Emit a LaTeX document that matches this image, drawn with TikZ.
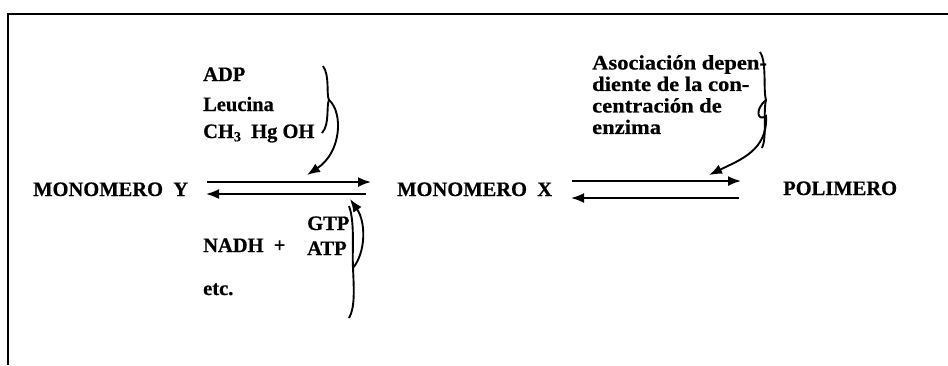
\documentclass[tikz,border=0pt]{standalone}
\usepackage{fontspec}
\setmainfont{Liberation Serif}[BoldFeatures={FakeBold=0.6}]
\newfontfamily\widefont{Liberation Serif}[BoldFeatures={FakeBold=0.6,FakeStretch=1.1}]
\usetikzlibrary{arrows.meta}
\begin{document}
\begin{tikzpicture}[x=1pt,y=-1pt,
  lbl/.style={anchor=base west,inner sep=0pt,font=\fontsize{20.5}{21}\selectfont\bfseries},
  rxn/.style={line width=1.8pt,-{Latex[length=13pt,width=10pt]}},
  bent/.style={line width=1.9pt,-{Latex[length=13pt,width=10pt]}},
  brc/.style={line width=1.9pt},
  frame/.style={line width=2.8pt}]
\useasboundingbox (0,0) rectangle (948,365);
% frame (open at right and bottom)
\coordinate (ftr) at (948,14);
\coordinate (ftl) at (8,14);
\coordinate (fbl) at (8,365);
\draw[frame] (ftr) -- (ftl) -- (fbl);
% main species
\node[lbl] (my) at (33,196) {MONOMERO\ \ Y};
\node[lbl] (mx) at (397,196) {MONOMERO\ \ X};
\node[lbl] (pol) at (783,195) {POLIMERO};
% reaction arrows
\coordinate (a1s) at (207,182); \coordinate (a1e) at (371,182);
\coordinate (a2s) at (366,194); \coordinate (a2e) at (206,194);
\coordinate (b1s) at (572,181); \coordinate (b1e) at (741,181);
\coordinate (b2s) at (739,198); \coordinate (b2e) at (571,198);
\draw[rxn] (a1s) -- (a1e);
\draw[rxn] (a2s) -- (a2e);
\draw[rxn] (b1s) -- (b1e);
\draw[rxn] (b2s) -- (b2e);
% upper left effectors
\node[lbl] (adp) at (203,81) {ADP};
\node[lbl] (leu) at (203,111) {Leucina};
\node[lbl] (chg) at (203,138) {CH\raisebox{-0.35ex}{\fontsize{14}{14}\selectfont 3}\ \ Hg OH};
\coordinate (br1t) at (323,66);
\coordinate (br1m) at (329,100);
\coordinate (br1b) at (322,133);
\draw[brc] (br1t) .. controls (330,76) and (326,94) .. (br1m) .. controls (326,106) and (330,124) .. (br1b);
\coordinate (c1e) at (307,175);
\draw[bent] (br1m) .. controls (343,112) and (342,152) .. (c1e);
% lower effectors
\node[lbl] (nadh) at (203,252) {NADH\ \ +};
\node[lbl] (gtp) at (307,230) {GTP};
\node[lbl] (atp) at (307,255) {ATP};
\node[lbl] (etc) at (203,295) {etc.};
\coordinate (br2t) at (349,206);
\coordinate (br2m) at (353,268);
\coordinate (br2b) at (349,318);
\draw[brc] (br2t) .. controls (355,222) and (352,250) .. (br2m) .. controls (354,290) and (355,308) .. (br2b);
\coordinate (c2e) at (350,199);
\draw[bent] (br2m) .. controls (366,252) and (366,222) .. (c2e);
% upper right effector
\node[lbl,align=left,anchor=north west,font=\fontsize{20.5}{21.5}\selectfont\widefont\bfseries] (aso) at (592,55) {Asociación depen-\\diente de la con-\\centración de\\enzima};
\coordinate (br3t) at (760,52);
\coordinate (br3m) at (766,100);
\coordinate (br3b) at (762,148);
\draw[brc] (br3t) .. controls (767,62) and (763,90) .. (br3m) .. controls (763,112) and (767,138) .. (br3b);
\coordinate (c3e) at (709,175);
\draw[bent] (br3m) .. controls (754,110) and (758,122) .. (766,116) .. controls (768,150) and (740,160) .. (c3e);
\end{tikzpicture}
\end{document}
